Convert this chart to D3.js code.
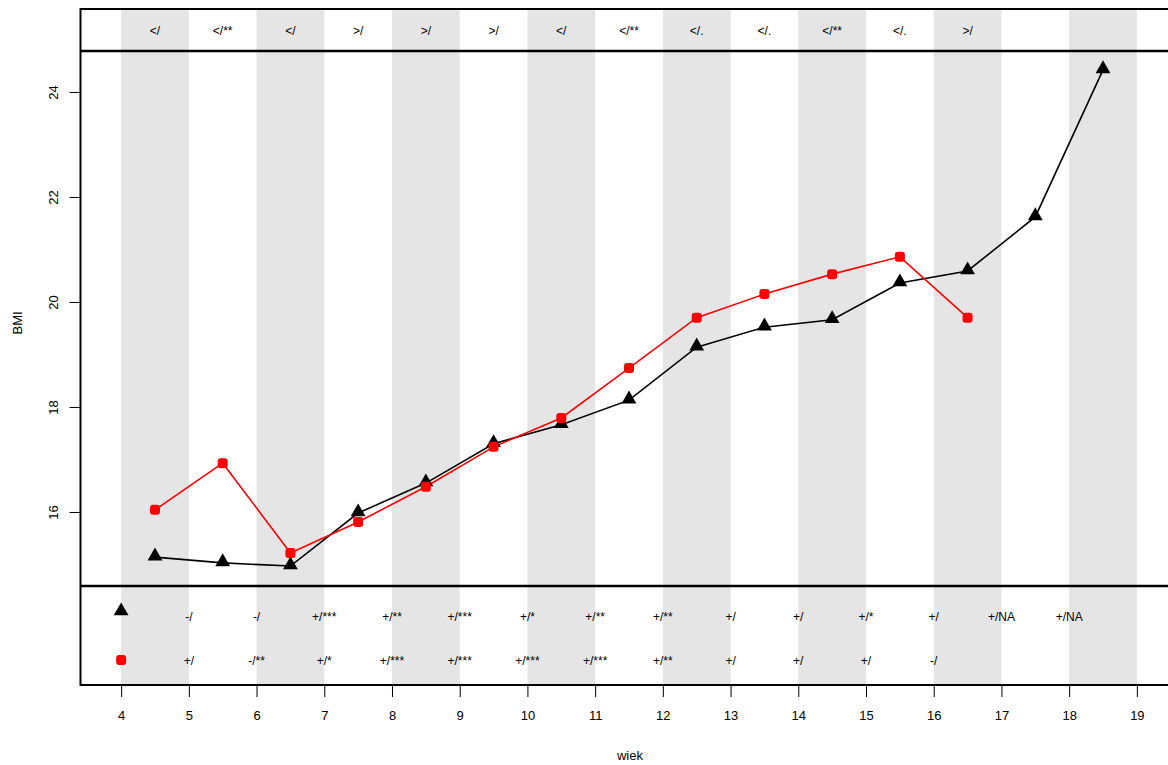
<!DOCTYPE html>
<html>
<head>
<meta charset="utf-8">
<script src="https://cdn.jsdelivr.net/npm/d3@7"></script>
<style>
  body { margin: 0; background: #fff; }
  text { font-family: "Liberation Sans", Arial, sans-serif; fill: #000; }
</style>
</head>
<body>
<script>
var ages = [4.5, 5.5, 6.5, 7.5, 8.5, 9.5, 10.5, 11.5, 12.5, 13.5, 14.5, 15.5, 16.5, 17.5, 18.5];
var bmiBlack = [15.14, 15.03, 14.97, 15.98, 16.55, 17.30, 17.66, 18.13, 19.14, 19.52, 19.66, 20.36, 20.59, 21.62, 24.42];
var bmiRed = [16.04, 16.93, 15.22, 15.81, 16.48, 17.24, 17.79, 18.74, 19.70, 20.15, 20.53, 20.86, 19.70];
var topLabels = ["</", "</**", "</", ">/", ">/", ">/", "</", "</**", "</.", "</.", "</**", "</.", ">/"];
var blackLabels = ["-/", "-/", "+/***", "+/**", "+/***", "+/*", "+/**", "+/**", "+/", "+/", "+/*", "+/", "+/NA", "+/NA"];
var redLabels = ["+/", "-/**", "+/*", "+/***", "+/***", "+/***", "+/***", "+/**", "+/", "+/", "+/", "-/"];
var xTicks = d3.range(4, 20);
var yTicks = [16, 18, 20, 22, 24];
var stripes = [4, 6, 8, 10, 12, 14, 16, 18];

var w = 1168, h = 765;
var boxTop = 9, boxBottom = 685, bandTop = 51, bandBottom = 586;

var x = d3.scaleLinear().domain([3.4, 19.6]).range([80.5, 1177.5]);
var y = d3.scaleLinear().domain([14.59, 24.78]).range([bandBottom, bandTop]);

var svg = d3.select("body").append("svg")
  .attr("width", w)
  .attr("height", h);

// grey stripes
svg.selectAll("rect.stripe")
  .data(stripes)
  .enter()
  .append("rect")
  .attr("class", "stripe")
  .attr("x", function(d) { return x(d); })
  .attr("y", boxTop)
  .attr("width", function(d) { return x(d + 1) - x(d); })
  .attr("height", boxBottom - boxTop)
  .attr("fill", "#e5e5e5");

// box and band lines
svg.append("rect")
  .attr("x", x(3.4))
  .attr("y", boxTop)
  .attr("width", x(19.6) - x(3.4))
  .attr("height", boxBottom - boxTop)
  .attr("fill", "none")
  .attr("stroke", "#000")
  .attr("stroke-width", 2);

[bandTop, bandBottom].forEach(function(yy) {
  svg.append("line")
    .attr("x1", x(3.4)).attr("x2", x(19.6))
    .attr("y1", yy).attr("y2", yy)
    .attr("stroke", "#000")
    .attr("stroke-width", 2.5);
});

// x axis
var xAxis = d3.axisBottom(x)
  .tickValues(xTicks)
  .tickSize(12)
  .tickPadding(14)
  .tickFormat(d3.format("d"));
var gx = svg.append("g")
  .attr("transform", "translate(0," + boxBottom + ")")
  .call(xAxis);
gx.select(".domain").remove();
gx.selectAll("text").attr("font-size", 13).attr("font-family", "Liberation Sans, Arial, sans-serif");

// y axis
var yAxis = d3.axisLeft(y)
  .tickValues(yTicks)
  .tickSize(11)
  .tickPadding(14);
var gy = svg.append("g")
  .attr("transform", "translate(" + x(3.4) + ",0)")
  .call(yAxis);
gy.select(".domain").remove();
gy.selectAll("text")
  .attr("font-size", 13)
  .attr("font-family", "Liberation Sans, Arial, sans-serif")
  .attr("x", 0)
  .attr("y", 0)
  .attr("dy", "0.35em")
  .attr("transform", "translate(-27,0) rotate(-90)")
  .attr("text-anchor", "middle");

svg.append("text")
  .attr("x", 630).attr("y", 760)
  .attr("text-anchor", "middle")
  .attr("font-size", 13)
  .text("wiek");

svg.append("text")
  .attr("transform", "translate(22," + y(19.6) + ") rotate(-90)")
  .attr("text-anchor", "middle")
  .attr("font-size", 13)
  .text("BMI");

// lines
var line = d3.line()
  .x(function(d, i) { return x(ages[i]); })
  .y(function(d) { return y(d); });

svg.append("path")
  .datum(bmiBlack)
  .attr("d", line)
  .attr("fill", "none")
  .attr("stroke", "#000")
  .attr("stroke-width", 1.6);

svg.append("path")
  .datum(bmiRed)
  .attr("d", line)
  .attr("fill", "none")
  .attr("stroke", "#ff0000")
  .attr("stroke-width", 1.6);

var tri = d3.symbol().type(d3.symbolTriangle).size(95);

svg.selectAll("path.tri")
  .data(bmiBlack)
  .enter()
  .append("path")
  .attr("class", "tri")
  .attr("d", tri)
  .attr("transform", function(d, i) { return "translate(" + x(ages[i]) + "," + (y(d) - 1) + ")"; })
  .attr("fill", "#000");

svg.selectAll("rect.dot")
  .data(bmiRed)
  .enter()
  .append("rect")
  .attr("class", "dot")
  .attr("x", function(d, i) { return x(ages[i]) - 5; })
  .attr("y", function(d) { return y(d) - 5; })
  .attr("width", 10)
  .attr("height", 10)
  .attr("rx", 3)
  .attr("fill", "#ff0000");

// top band labels
svg.selectAll("text.top")
  .data(topLabels)
  .enter()
  .append("text")
  .attr("class", "top")
  .attr("x", function(d, i) { return x(ages[i]); })
  .attr("y", 35)
  .attr("text-anchor", "middle")
  .attr("font-size", 12)
  .text(function(d) { return d; });

// bottom band legend symbols
svg.append("path")
  .attr("d", tri)
  .attr("transform", "translate(" + x(4) + ",611)")
  .attr("fill", "#000");
svg.append("rect")
  .attr("x", x(4) - 5).attr("y", 655)
  .attr("width", 10).attr("height", 10)
  .attr("rx", 3)
  .attr("fill", "#ff0000");

svg.selectAll("text.bl")
  .data(blackLabels)
  .enter()
  .append("text")
  .attr("class", "bl")
  .attr("x", function(d, i) { return x(5 + i); })
  .attr("y", 621)
  .attr("text-anchor", "middle")
  .attr("font-size", 12)
  .text(function(d) { return d; });

svg.selectAll("text.rl")
  .data(redLabels)
  .enter()
  .append("text")
  .attr("class", "rl")
  .attr("x", function(d, i) { return x(5 + i); })
  .attr("y", 665)
  .attr("text-anchor", "middle")
  .attr("font-size", 12)
  .text(function(d) { return d; });
</script>
</body>
</html>
